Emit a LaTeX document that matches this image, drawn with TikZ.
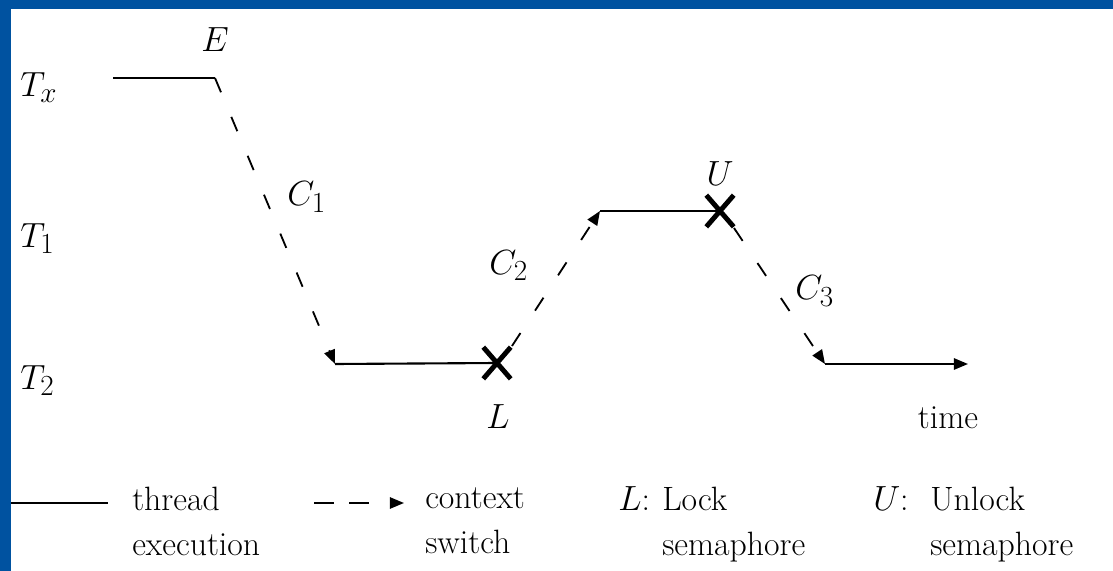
\documentclass[tikz,border=0pt]{standalone}
\usetikzlibrary{arrows.meta,shapes.misc}
\definecolor{slideblue}{RGB}{0,82,160}
\begin{document}
\begin{tikzpicture}[x=0.025cm,y=-0.025cm,
  thr/.style={line width=1.5pt},
  tip/.style={-{Triangle[length=10pt,width=8pt]}},
  sw/.style={line width=1.3pt, dash pattern=on 11pt off 19pt, tip},
  lbl/.style={font=\fontsize{29}{31}\selectfont, inner sep=0pt},
  txt/.style={font=\fontsize{24}{32}\selectfont, inner sep=0pt, align=left},
  xmark/.style={cross out, draw, line width=3.5pt, minimum width=16pt, minimum height=19pt, inner sep=0pt}]
\useasboundingbox (0,0) rectangle (1113,571);
\fill[white] (0,0) rectangle (1113,571);
\fill[slideblue] (0,0) rectangle (1113,9);
\fill[slideblue] (0,0) rectangle (11,571);

% thread labels
\node[lbl, anchor=base west] (tx) at (20,97) {$T_x$};
\node[lbl, anchor=base west] (t1) at (20,247) {$T_1$};
\node[lbl, anchor=base west] (t2) at (20,389) {$T_2$};

% timeline points
\coordinate (tx0) at (113,78);
\coordinate (e) at (215,78);
\coordinate (t2a) at (335,364);
\coordinate (t1a) at (600,211);
\coordinate (t2b) at (825,364);
\coordinate (tend) at (968,364);
\coordinate (c2s) at (512,346);
\coordinate (c3s) at (734,228);

\draw[thr] (tx0) -- (e);
\draw[sw] (e) -- (t2a);
\draw[thr] (t2a) -- (497,363) coordinate (lc);
\draw[sw] (c2s) -- (t1a);
\draw[thr] (t1a) -- (720,211) coordinate (uc);
\draw[sw] (c3s) -- (t2b);
\draw[thr, tip] (t2b) -- (tend);

\node[xmark] (L) at (lc) {};
\node[xmark] (U) at (uc) {};

% point labels
\node[lbl, anchor=base] (elab) at (215,52) {$E$};
\node[lbl, anchor=base] (llab) at (498,428) {$L$};
\node[lbl, anchor=base] (ulab) at (720,186) {$U$};
\node[lbl, anchor=base west] (c1) at (287,206) {$C_1$};
\node[lbl, anchor=base west] (c2) at (489,274) {$C_2$};
\node[lbl, anchor=base west] (c3) at (795,300) {$C_3$};
\node[txt, anchor=base] (time) at (948,428) {time};

% legend
\coordinate (lg1a) at (11,503);
\coordinate (lg1b) at (108,503);
\draw[thr] (lg1a) -- (lg1b);
\node[txt, anchor=north west] (thread) at (132,487) {thread\\execution};
\coordinate (lg2a) at (314,503);
\coordinate (lg2b) at (404,503);
\draw[line width=1.3pt, dash pattern=on 14pt off 11pt on 14pt off 40pt, tip] (lg2a) -- (lg2b);
\node[txt, anchor=north west] (context) at (425,487) {context\\switch};
\node[txt, anchor=base west] (lsym) at (618,510) {$L$:};
\node[txt, anchor=north west] (lock) at (662,487) {Lock\\semaphore};
\node[txt, anchor=base west] (usym) at (873,510) {$U$:};
\node[txt, anchor=north west] (unlock) at (930,487) {Unlock\\semaphore};
\end{tikzpicture}
\end{document}
